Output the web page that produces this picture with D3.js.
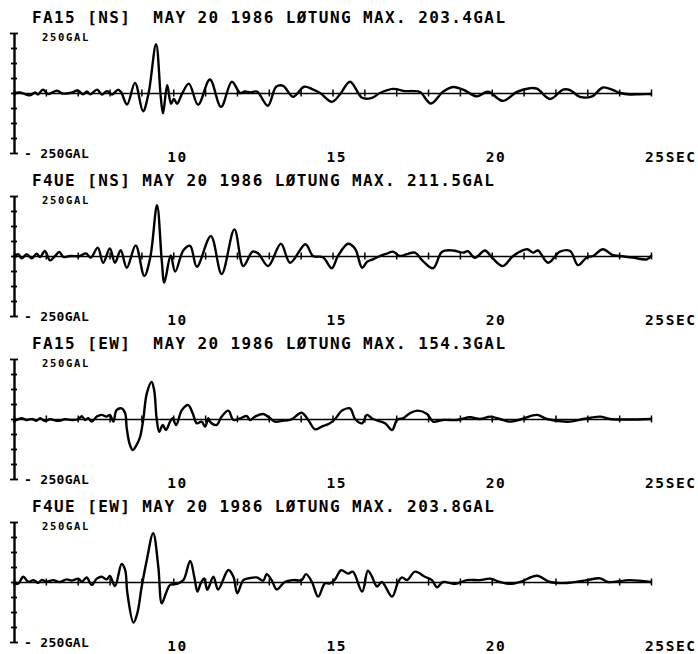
<!DOCTYPE html>
<html>
<head>
<meta charset="utf-8">
<script src="https://cdn.jsdelivr.net/npm/d3@7"></script>
<style>
  html, body { margin: 0; padding: 0; background: #fff; }
  svg { display: block; }
  text { font-family: "DejaVu Sans Mono", "Liberation Mono", monospace; font-weight: bold; fill: #000; white-space: pre; }
</style>
</head>
<body>
<svg id="chart" width="698" height="654"></svg>
<script>
// Record headers, one per trace
const recordTitles = [
  "FA15 [NS]  MAY 20 1986 LØTUNG MAX. 203.4GAL",
  "F4UE [NS] MAY 20 1986 LØTUNG MAX. 211.5GAL",
  "FA15 [EW]  MAY 20 1986 LØTUNG MAX. 154.3GAL",
  "F4UE [EW] MAY 20 1986 LØTUNG MAX. 203.8GAL"
];

// Time axis (seconds) and amplitude range (gal)
const timeDomain = [5, 25];
const timeLabelValues = [10, 15, 20, 25];
const timeLabelTexts = ["10", "15", "20", "25SEC"];
const ampDomain = [-250, 250];
const ampTopLabel = "250GAL";
const ampBottomLabel = "- 250GAL";

// Acceleration traces: [time (s), acceleration (gal)]
const fa15NS = [
  [5.00,0],[5.19,2],[5.50,-10],[5.66,2],[5.75,-6],[5.91,14],[6.07,-4],[6.35,10],[6.51,-2],[6.76,0],
  [7.01,10],[7.17,-5],[7.29,6],[7.39,-5],[7.61,14],[7.76,-6],[7.92,8],[8.08,-6],[8.27,14],[8.36,4],
  [8.55,-48],[8.80,42],[9.05,-76],[9.22,-5],[9.46,203.4],[9.61,-20],[9.68,-85],[9.81,32],[9.93,-45],
  [10.02,-25],[10.12,-45],[10.27,-5],[10.49,39],[10.78,-49],[11.15,56],[11.50,-58],[11.84,47],[12.10,0],
  [12.25,6],[12.41,2],[12.63,6],[12.97,-53],[13.23,26],[13.45,30],[13.76,-16],[14.11,26],[14.36,16],
  [14.61,0],[14.98,-37],[15.24,-5],[15.55,47],[15.93,-20],[16.24,-20],[16.49,0],[16.90,17],[17.28,8],
  [17.53,8],[17.75,4],[18.09,-44],[18.47,5],[18.78,25],[19.10,14],[19.54,-14],[19.88,5],[20.35,-33],
  [20.79,5],[21.20,20],[21.42,18],[21.83,-25],[22.24,14],[22.46,12],[22.77,-16],[23.15,-14],[23.49,23],
  [23.81,12],[24.03,0],[24.35,-6],[24.66,-5],[25.00,-4]
];

const f4ueNS = [
  [5.00,0],[5.14,7],[5.24,-10],[5.40,7],[5.56,-10],[5.71,10],[5.82,-4],[5.97,21],[6.13,-18],[6.29,0],
  [6.42,17],[6.55,-4],[6.76,0],[7.07,0],[7.26,11],[7.41,-7],[7.63,35],[7.80,-28],[8.01,31],[8.17,-28],
  [8.35,24],[8.54,-49],[8.82,44],[9.09,-83],[9.28,-5],[9.49,211.5],[9.64,-20],[9.72,-111],[9.92,2],
  [10.06,-65],[10.32,24],[10.53,42],[10.74,-45],[11.18,83],[11.52,-75],[11.92,111],[12.20,-42],[12.49,18],
  [12.67,10],[12.98,-42],[13.38,51],[13.67,-28],[14.15,49],[14.39,0],[14.70,-5],[14.98,-51],[15.17,0],
  [15.49,51],[15.71,30],[15.93,-49],[16.08,-25],[16.27,-14],[16.49,0],[16.71,10],[16.90,18],[17.12,0],
  [17.34,8],[17.59,14],[17.84,-21],[18.16,-51],[18.44,18],[18.78,23],[19.10,14],[19.25,20],[19.47,-7],
  [19.79,23],[20.01,-7],[20.35,-42],[20.67,0],[21.11,28],[21.30,14],[21.45,23],[21.77,-28],[22.14,18],
  [22.46,21],[22.71,-38],[22.99,-5],[23.18,0],[23.49,28],[23.78,5],[24.03,0],[24.43,-7],[24.87,-14],
  [25.00,0]
];

const fa15EW = [
  [5.00,-11],[5.08,-4],[5.24,3],[5.40,-4],[5.56,0],[5.71,-7],[5.82,3],[5.97,-8],[6.13,-1],[6.39,-8],
  [6.60,-1],[6.81,-4],[7.02,-1],[7.13,12],[7.23,-4],[7.33,3],[7.44,-11],[7.60,10],[7.75,17],[7.91,10],
  [8.01,17],[8.12,-11],[8.22,37],[8.38,44],[8.49,24],[8.54,-39],[8.64,-108],[8.73,-129],[8.85,-108],
  [8.96,-74],[9.06,0],[9.17,107],[9.32,154.3],[9.40,121],[9.48,0],[9.56,-53],[9.67,-25],[9.77,-46],
  [9.90,-11],[9.98,3],[10.09,-25],[10.27,37],[10.47,58],[10.61,24],[10.74,-18],[10.89,-11],[11.00,-32],
  [11.10,3],[11.15,-11],[11.36,-25],[11.52,10],[11.73,35],[11.89,-4],[12.10,3],[12.31,12],[12.41,-4],
  [12.57,10],[12.83,21],[13.04,3],[13.19,-11],[13.46,-7],[13.67,-4],[13.77,3],[14.03,26],[14.24,-4],
  [14.45,-43],[14.66,-32],[14.92,-18],[15.08,0],[15.30,35],[15.55,44],[15.71,0],[15.93,-18],[16.08,17],
  [16.27,0],[16.65,-18],[16.87,-46],[17.03,-3],[17.21,3],[17.43,24],[17.68,35],[17.97,21],[18.16,-11],
  [18.47,-4],[18.91,-4],[19.32,7],[19.63,0],[19.95,10],[20.26,0],[20.57,-11],[20.95,0],[21.42,17],
  [21.73,0],[22.46,-11],[22.87,0],[23.40,10],[23.71,0],[25.00,0]
];

const f4ueEW = [
  [5.00,-8],[5.14,-6],[5.29,22],[5.45,1],[5.61,8],[5.76,-3],[5.87,8],[6.03,1],[6.23,8],[6.44,0],
  [6.65,11],[6.81,6],[7.02,14],[7.13,1],[7.28,19],[7.44,-12],[7.60,14],[7.75,22],[7.91,11],[8.01,25],
  [8.17,-17],[8.38,75],[8.49,50],[8.56,-47],[8.75,-169],[8.87,-131],[9.01,-19],[9.17,92],[9.37,203.8],
  [9.53,64],[9.64,-89],[9.77,-47],[9.90,-12],[10.11,-8],[10.32,8],[10.53,88],[10.66,22],[10.76,-40],
  [10.86,-6],[10.97,15],[11.07,-33],[11.26,22],[11.41,-31],[11.73,50],[11.89,22],[12.01,-47],[12.20,8],
  [12.36,15],[12.62,19],[12.83,6],[12.93,33],[13.09,8],[13.25,-31],[13.51,1],[13.77,8],[14.03,8],
  [14.17,33],[14.35,1],[14.55,-61],[14.76,-6],[14.92,-6],[15.08,11],[15.27,49],[15.49,35],[15.64,43],
  [15.93,-40],[16.11,47],[16.24,22],[16.40,-19],[16.55,0],[16.87,-61],[17.06,0],[17.18,19],[17.34,8],
  [17.59,43],[17.90,22],[18.12,8],[18.28,-22],[18.47,0],[18.85,-8],[19.22,8],[19.63,8],[19.95,14],
  [20.26,0],[20.57,-8],[20.89,0],[21.42,26],[21.83,0],[22.36,-4],[22.99,8],[23.40,15],[23.65,0],
  [24.34,8],[25.00,0]
];

const traces = [fa15NS, f4ueNS, fa15EW, f4ueEW];

// ---- layout ----
const svg = d3.select("#chart");
const firstZero = 93;      // baseline of the first trace
const panelStep = 163;     // vertical distance between traces
const halfHeight = 60;     // pixels from zero to ±250 gal

const x = d3.scaleLinear().domain(timeDomain).range([14, 651]);
const y = d3.scaleLinear().domain(ampDomain).range([halfHeight, -halfHeight]);

const line = d3.line()
  .x(d => x(d[0]))
  .y(d => y(d[1]))
  .curve(d3.curveCatmullRom.alpha(0.5));

traces.forEach((trace, i) => {
  const g = svg.append("g").attr("transform", `translate(0,${firstZero + i * panelStep})`);

  // header
  g.append("text")
    .attr("x", 32).attr("y", -70)
    .attr("xml:space", "preserve")
    .style("font-size", "16px").style("letter-spacing", "1.4px")
    .text(recordTitles[i]);

  // amplitude axis
  const yAxis = g.append("g")
    .attr("transform", `translate(${x(timeDomain[0])},0)`)
    .call(d3.axisLeft(y).tickValues(d3.range(-250, 251, 62.5)).tickSize(3).tickSizeOuter(0).tickFormat(""));
  yAxis.select(".domain").attr("stroke", "#000").attr("stroke-width", 2.4);
  yAxis.selectAll(".tick line")
    .attr("stroke", "#000").attr("stroke-width", 1.8)
    .attr("x1", d => Math.abs(d) === 250 ? 4 : 3)
    .attr("x2", d => Math.abs(d) === 250 ? -4 : -3);

  g.append("text")
    .attr("x", 42).attr("y", -52.5)
    .style("font-size", "10.5px").style("letter-spacing", "1.7px")
    .text(ampTopLabel);
  g.append("text")
    .attr("x", 24).attr("y", 64.5)
    .attr("xml:space", "preserve")
    .style("font-size", "13px").style("letter-spacing", "0.3px")
    .text(ampBottomLabel);

  // zero line with one-second ticks
  const xAxis = g.append("g")
    .call(d3.axisBottom(x).tickValues(d3.range(5, 26)).tickSize(3.5).tickSizeOuter(0).tickFormat(""));
  xAxis.select(".domain").attr("stroke", "#000").attr("stroke-width", 1.5);
  xAxis.selectAll(".tick line")
    .attr("stroke", "#000").attr("stroke-width", 1.5)
    .attr("y1", -3.5)
    .attr("y2", 3.5);

  // time labels
  g.selectAll(".time-label")
    .data(timeLabelValues)
    .join("text")
    .attr("class", "time-label")
    .attr("x", d => x(d) - 6)
    .attr("y", 69)
    .style("font-size", "14.5px").style("letter-spacing", "1.6px")
    .text((d, j) => timeLabelTexts[j]);

  // acceleration trace
  g.append("path")
    .datum(trace)
    .attr("fill", "none")
    .attr("stroke", "#000")
    .attr("stroke-width", 2.4)
    .attr("stroke-linejoin", "round")
    .attr("stroke-linecap", "round")
    .attr("d", line);
});
</script>
</body>
</html>
